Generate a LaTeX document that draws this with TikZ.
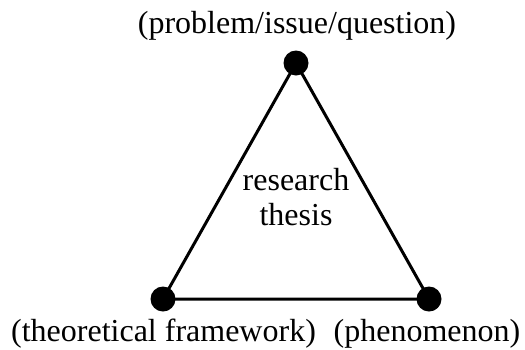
\documentclass[tikz,border=0pt]{standalone}
\usepackage{fontspec}
\setmainfont{Liberation Serif}
\begin{document}
\begin{tikzpicture}[x=1pt,y=-1pt,
  dot/.style={circle,fill=black,inner sep=0pt,minimum size=25pt},
  lbl/.style={inner sep=0pt,anchor=base,font=\fontsize{32}{36}\selectfont},
  edge/.style={line width=3pt}]
\useasboundingbox (0,0) rectangle (525,349);
\coordinate (tc) at (296,63);
\coordinate (lc) at (163,299);
\coordinate (rc) at (429,299);
\draw[edge] (tc) -- (lc) -- (rc) -- cycle;
\node[dot] (t) at (tc) {};
\node[dot] (l) at (lc) {};
\node[dot] (r) at (rc) {};
\node[lbl] (tl) at (297,33) {(problem/issue/question)};
\node[lbl] (ll) at (163.5,341) {(theoretical framework)};
\node[lbl] (rl) at (427,341) {(phenomenon)};
\node[lbl] (c1) at (296,190) {research};
\node[lbl] (c2) at (296,225) {thesis};
\end{tikzpicture}
\end{document}
